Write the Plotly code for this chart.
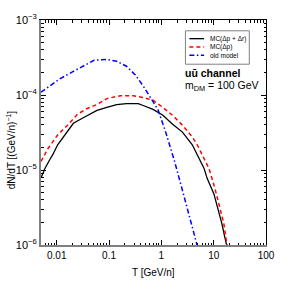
import plotly.graph_objects as go
import math

# ---- data ----
T_full = [0.0050, 0.00594, 0.00738, 0.0084, 0.0104, 0.0141, 0.0208, 0.0335, 0.0587, 0.0906,
          0.140, 0.215, 0.361, 0.449, 0.692, 1.07, 1.64, 2.53, 3.90, 6.55, 7.46, 10.1, 12.5,
          14.3, 16.3, 17.7]
dNdT_full = [7.8e-6, 1.05e-5, 1.38e-5, 1.6e-5, 2.17e-5, 2.93e-5, 4.2e-5, 5.05e-5, 6.24e-5, 6.82e-5,
             7.46e-5, 7.69e-5, 7.69e-5, 7.24e-5, 6.43e-5, 5.36e-5, 4.08e-5, 3.2e-5, 2.17e-5, 1.05e-5,
             7.8e-6, 4.8e-6, 2.87e-6, 1.94e-6, 1.27e-6, 1.0e-6]

T_dp = [0.0050, 0.00676, 0.0104, 0.0161, 0.0248, 0.0382, 0.0587, 0.0906, 0.166, 0.291, 0.449,
        0.692, 1.07, 1.64, 2.53, 3.90, 4.84, 8.13, 10.5, 13.1, 15.6, 17.7, 18.2]
dNdT_dp = [1.30e-5, 1.92e-5, 2.93e-5, 3.96e-5, 5.52e-5, 6.62e-5, 7.46e-5, 8.95e-5, 9.8e-5, 9.8e-5,
           9.23e-5, 8.5e-5, 6.82e-5, 5.36e-5, 3.96e-5, 2.76e-5, 2.17e-5, 1.05e-5, 5.75e-6, 3.15e-6,
           1.94e-6, 1.06e-6, 0.9e-6]

T_old = [0.0050, 0.0076, 0.0114, 0.027, 0.0416, 0.0516, 0.0906, 0.140, 0.215, 0.318, 0.449,
         0.692, 0.86, 1.21, 1.79, 2.76, 3.90, 4.84, 5.0]
dNdT_old = [1.09e-4, 1.36e-4, 1.64e-4, 2.28e-4, 2.65e-4, 2.9e-4, 2.99e-4, 2.82e-4, 2.42e-4, 1.85e-4,
            1.32e-4, 8.2e-5, 6.4e-5, 3.2e-5, 1.3e-5, 4.26e-6, 1.72e-6, 1.0e-6, 0.9e-6]

x_tickvals = [0.01, 0.1, 1, 10, 100]
x_ticktext = ["0.01", "0.1", "1", "10", "100"]
y_tickvals = [1e-6, 1e-5, 1e-4, 1e-3]
y_ticktext = ["10<sup>\u22126</sup>", "10<sup>\u22125</sup>", "10<sup>\u22124</sup>", "10<sup>\u22123</sup>"]

names = ["MC(\u0394p + \u0394r)", "MC(\u0394p)", "old model"]
colors = ["black", "red", "blue"]
dashes = ["solid", "4px,3px", "5px,2.5px,1.5px,2.5px"]
widths = [1.3, 1.5, 1.5]

FONT = "Liberation Sans, Arial, sans-serif"

fig = go.Figure()
for (xs, ys), nm, c, d, w in zip([(T_full, dNdT_full), (T_dp, dNdT_dp), (T_old, dNdT_old)],
                                 names, colors, dashes, widths):
    fig.add_trace(go.Scatter(x=xs, y=ys, mode="lines", name=nm,
                             line=dict(color=c, width=w, dash=d), showlegend=False))

x_minor = [k * 10 ** n for n in range(-3, 2) for k in range(2, 10)]
y_minor = [k * 10 ** n for n in range(-7, -3) for k in range(2, 10)]
xr = [math.log10(0.005), 2]
yr = [-6, -3]

common = dict(type="log", showgrid=False, zeroline=False, ticks="inside", ticklen=5,
              tickcolor="black", tickwidth=1)
minor = dict(ticks="inside", ticklen=2.5, tickcolor="black", tickmode="array", showgrid=False)

fig.update_layout(
    width=287, height=287,
    margin=dict(l=41, r=17, t=16, b=42),
    paper_bgcolor="white", plot_bgcolor="white",
    font=dict(family=FONT, color="black", size=10),
    xaxis=dict(**common, range=xr, tickvals=x_tickvals, ticktext=x_ticktext,
               showline=True, linecolor="#808080", linewidth=2, mirror=False,
               tickfont=dict(size=10), minor=dict(**minor, tickvals=x_minor)),
    xaxis2=dict(**common, range=xr, overlaying="x", side="top", tickvals=x_tickvals,
                showticklabels=False, showline=True, linecolor="black", linewidth=1,
                minor=dict(**minor, tickvals=x_minor)),
    yaxis=dict(**common, range=yr, tickvals=y_tickvals, ticktext=y_ticktext,
               showline=True, linecolor="#808080", linewidth=2, mirror=False,
               tickfont=dict(size=11), minor=dict(**minor, tickvals=y_minor)),
    yaxis2=dict(**common, range=yr, overlaying="y", side="right", tickvals=y_tickvals,
                showticklabels=False, showline=True, linecolor="black", linewidth=1,
                minor=dict(**minor, tickvals=y_minor)),
)

fig.add_trace(go.Scatter(x=[None], y=[None], xaxis="x2", yaxis="y2", showlegend=False, hoverinfo="skip"))

def px2paper_x(px):
    return (px - 41) / 229.0

def px2paper_y(py):
    return (245 - py) / 229.0

fig.add_annotation(text="T [GeV/n]", xref="paper", yref="paper", x=px2paper_x(156), y=px2paper_y(273),
                   showarrow=False, font=dict(size=10), xanchor="center", yanchor="middle")
fig.add_annotation(text="dN/dT [(GeV/n)<sup>\u22121</sup>]", xref="paper", yref="paper",
                   x=px2paper_x(10), y=px2paper_y(148), textangle=-90,
                   showarrow=False, font=dict(size=10), xanchor="center", yanchor="middle")

# legend (drawn manually)
fig.add_shape(type="rect", xref="paper", yref="paper",
              x0=px2paper_x(188), x1=px2paper_x(253), y0=px2paper_y(61), y1=px2paper_y(27),
              line=dict(color="#808080", width=1), fillcolor="white")
rows = [35, 43.5, 52]
for nm, c, d, w, ry in zip(names, colors, dashes, widths, rows):
    fig.add_shape(type="line", xref="paper", yref="paper",
                  x0=px2paper_x(192), x1=px2paper_x(207), y0=px2paper_y(ry), y1=px2paper_y(ry),
                  line=dict(color=c, width=w, dash=d))
    fig.add_annotation(text=nm, xref="paper", yref="paper", x=px2paper_x(211), y=px2paper_y(ry),
                       showarrow=False, font=dict(size=6.5), xanchor="left", yanchor="middle")

fig.add_annotation(text="<b>u\u016b channel</b>", xref="paper", yref="paper",
                   x=px2paper_x(186), y=px2paper_y(70), showarrow=False,
                   font=dict(size=10.5), xanchor="left", yanchor="middle")
fig.add_annotation(text="m<sub>DM</sub> = 100 GeV", xref="paper", yref="paper",
                   x=px2paper_x(186), y=px2paper_y(83), showarrow=False,
                   font=dict(size=10.5), xanchor="left", yanchor="middle")

fig.write_html("out.html", config={"displayModeBar": False},
               post_script="document.body.style.margin='0';document.body.style.overflow='hidden';")
